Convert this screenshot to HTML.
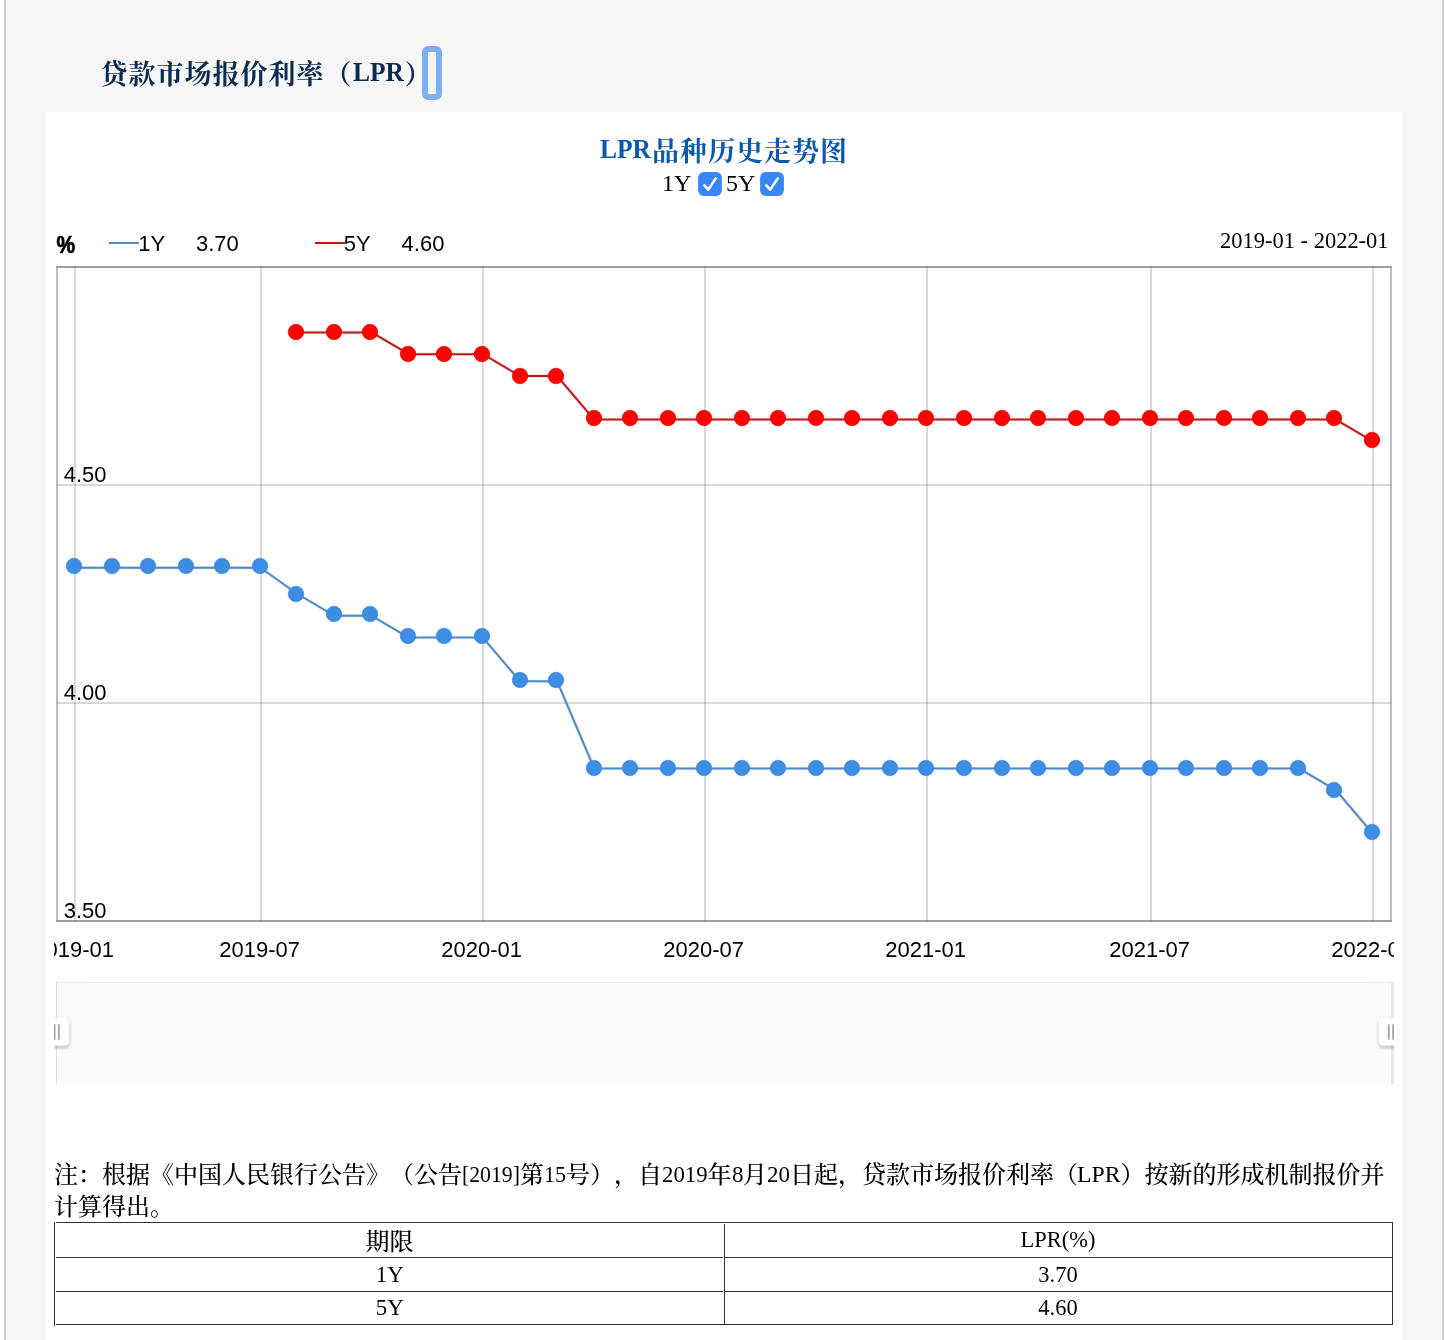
<!DOCTYPE html>
<html lang="zh-CN">
<head>
<meta charset="utf-8">
<title>贷款市场报价利率（LPR）</title>
<style>
html,body{margin:0;padding:0;background:#fff;}
body{width:1444px;height:1340px;overflow:hidden;position:relative;font-family:"Liberation Serif","Noto Serif CJK SC",serif;color:#000;}
.wrap{position:absolute;left:4px;top:0;width:1436px;height:1340px;border-left:2px solid #cdcdcd;border-right:2px solid #cdcdcd;background:#f6f6f6;}
.title{position:absolute;left:100.5px;top:55px;margin:0;font-size:27px;letter-spacing:1px;line-height:40px;font-weight:bold;color:#0a2a50;white-space:nowrap;}
.ring{position:absolute;left:422px;top:46px;width:8px;height:42px;border:6px solid #7eaef3;border-radius:6px;}
.panel{position:absolute;left:46px;top:112px;width:1356px;height:1228px;background:#fff;}
.ctitle{position:absolute;left:46px;top:132px;width:1356px;margin:0;text-align:center;font-size:27px;letter-spacing:1px;line-height:40px;font-weight:bold;color:#0d58ad;white-space:nowrap;}
.lat{display:inline-block;font-size:28px;letter-spacing:0;transform:scaleX(.91);transform-origin:0 50%;margin-right:-4px;position:relative;top:-2.8px;}
.checks{position:absolute;left:0;top:167px;width:1444px;height:32px;font-size:24px;line-height:32px;white-space:nowrap;}
.checks label{position:absolute;top:0;}
.checks input{position:absolute;top:5px;width:24px;height:24px;margin:0;padding:0;opacity:0;}
.checks .cb{position:absolute;top:5px;}
.chart{position:absolute;left:54px;top:212px;}
.note{position:absolute;left:54px;top:1159px;width:1340px;margin:0;font-size:24px;line-height:32px;text-spacing-trim:space-all;font-weight:500;white-space:nowrap;}
.note .l{display:inline-block;white-space:nowrap;transform-origin:0 50%;position:relative;top:-1.5px;}
.tbl{position:absolute;left:54px;top:1222px;width:1339px;height:103px;border-collapse:collapse;table-layout:fixed;font-size:24px;}
.tbl td{border:1px solid #2e2e2e;text-align:center;padding:0;line-height:30px;}
.gap{position:absolute;background:#fff;}
.tbl .c{position:relative;top:2px;font-weight:500;}
.tbl .t{display:inline-block;position:relative;top:-1px;transform:scaleX(.95);}
.tbl .t2{left:-0.8px;transform:scaleX(.935);}
</style>
</head>
<body>
<div class="wrap"></div>
<h1 class="title">贷款市场报价利率（<span class="lat">LPR</span>）</h1>
<div class="ring"></div>
<div class="panel"></div>
<h2 class="ctitle"><span class="lat">LPR</span>品种历史走势图</h2>
<div class="checks"><label for="c1y" style="left:662px">1Y</label><input id="c1y" type="checkbox" checked style="left:698px"><svg class="cb" style="left:698px" width="24" height="24" viewBox="0 0 24 24"><rect x="0.1" y="0.1" width="23.8" height="23.8" rx="5.6" fill="#3987f6"/><path d="M6.3 13.4 L10.1 17.7 L17.8 6.4" fill="none" stroke="#fff" stroke-width="2.5" stroke-linecap="round" stroke-linejoin="round"/></svg><label for="c5y" style="left:726px">5Y</label><input id="c5y" type="checkbox" checked style="left:760px"><svg class="cb" style="left:760px" width="24" height="24" viewBox="0 0 24 24"><rect x="0.1" y="0.1" width="23.8" height="23.8" rx="5.6" fill="#3987f6"/><path d="M6.3 13.4 L10.1 17.7 L17.8 6.4" fill="none" stroke="#fff" stroke-width="2.5" stroke-linecap="round" stroke-linejoin="round"/></svg></div>
<svg class="chart" width="1340" height="900" viewBox="54 212 1340 900">
<rect x="56" y="266" width="1336" height="2" fill="#9a9fad"/>
<rect x="56" y="920" width="1336" height="2" fill="#9a9fad"/>
<rect x="56" y="268" width="2" height="652" fill="#b8bec8"/>
<rect x="1390" y="268" width="2" height="652" fill="#b8bec8"/>
<g fill="#000" fill-opacity="0.15">
<rect x="74" y="267" width="2" height="654"/>
<rect x="260" y="267" width="2" height="654"/>
<rect x="482" y="267" width="2" height="654"/>
<rect x="704" y="267" width="2" height="654"/>
<rect x="926" y="267" width="2" height="654"/>
<rect x="1150" y="267" width="2" height="654"/>
<rect x="1372" y="267" width="2" height="654"/>
<rect x="57" y="484" width="1334" height="2"/>
<rect x="57" y="702" width="1334" height="2"/>
</g>
<path d="M297.5,332.4 L334.6,332.4 L371.7,332.4 L408.8,354.2 L445.9,354.2 L482.9,354.2 L520.0,376.0 L557.1,376.0 L594.2,419.6 L631.3,419.6 L668.4,419.6 L705.5,419.6 L742.5,419.6 L779.6,419.6 L816.7,419.6 L853.8,419.6 L890.9,419.6 L928.0,419.6 L965.1,419.6 L1002.1,419.6 L1039.2,419.6 L1076.3,419.6 L1113.4,419.6 L1150.5,419.6 L1187.6,419.6 L1224.7,419.6 L1261.7,419.6 L1298.8,419.6 L1335.9,419.6 L1373.0,441.4" fill="none" stroke="#ff3030" stroke-width="4" stroke-linejoin="round" stroke-opacity="0.12"/>
<path d="M297.5,332.4 L334.6,332.4 L371.7,332.4 L408.8,354.2 L445.9,354.2 L482.9,354.2 L520.0,376.0 L557.1,376.0 L594.2,419.6 L631.3,419.6 L668.4,419.6 L705.5,419.6 L742.5,419.6 L779.6,419.6 L816.7,419.6 L853.8,419.6 L890.9,419.6 L928.0,419.6 L965.1,419.6 L1002.1,419.6 L1039.2,419.6 L1076.3,419.6 L1113.4,419.6 L1150.5,419.6 L1187.6,419.6 L1224.7,419.6 L1261.7,419.6 L1298.8,419.6 L1335.9,419.6 L1373.0,441.4" fill="none" stroke="#b81e1e" stroke-width="2" stroke-linejoin="round"/>
<circle cx="296" cy="332" r="7.8" fill="#ff0000" stroke="#dc0000" stroke-width="0.6"/>
<circle cx="334" cy="332" r="7.8" fill="#ff0000" stroke="#dc0000" stroke-width="0.6"/>
<circle cx="370" cy="332" r="7.8" fill="#ff0000" stroke="#dc0000" stroke-width="0.6"/>
<circle cx="408" cy="354" r="7.8" fill="#ff0000" stroke="#dc0000" stroke-width="0.6"/>
<circle cx="444" cy="354" r="7.8" fill="#ff0000" stroke="#dc0000" stroke-width="0.6"/>
<circle cx="482" cy="354" r="7.8" fill="#ff0000" stroke="#dc0000" stroke-width="0.6"/>
<circle cx="520" cy="376" r="7.8" fill="#ff0000" stroke="#dc0000" stroke-width="0.6"/>
<circle cx="556" cy="376" r="7.8" fill="#ff0000" stroke="#dc0000" stroke-width="0.6"/>
<circle cx="594" cy="418" r="7.8" fill="#ff0000" stroke="#dc0000" stroke-width="0.6"/>
<circle cx="630" cy="418" r="7.8" fill="#ff0000" stroke="#dc0000" stroke-width="0.6"/>
<circle cx="668" cy="418" r="7.8" fill="#ff0000" stroke="#dc0000" stroke-width="0.6"/>
<circle cx="704" cy="418" r="7.8" fill="#ff0000" stroke="#dc0000" stroke-width="0.6"/>
<circle cx="742" cy="418" r="7.8" fill="#ff0000" stroke="#dc0000" stroke-width="0.6"/>
<circle cx="778" cy="418" r="7.8" fill="#ff0000" stroke="#dc0000" stroke-width="0.6"/>
<circle cx="816" cy="418" r="7.8" fill="#ff0000" stroke="#dc0000" stroke-width="0.6"/>
<circle cx="852" cy="418" r="7.8" fill="#ff0000" stroke="#dc0000" stroke-width="0.6"/>
<circle cx="890" cy="418" r="7.8" fill="#ff0000" stroke="#dc0000" stroke-width="0.6"/>
<circle cx="926" cy="418" r="7.8" fill="#ff0000" stroke="#dc0000" stroke-width="0.6"/>
<circle cx="964" cy="418" r="7.8" fill="#ff0000" stroke="#dc0000" stroke-width="0.6"/>
<circle cx="1002" cy="418" r="7.8" fill="#ff0000" stroke="#dc0000" stroke-width="0.6"/>
<circle cx="1038" cy="418" r="7.8" fill="#ff0000" stroke="#dc0000" stroke-width="0.6"/>
<circle cx="1076" cy="418" r="7.8" fill="#ff0000" stroke="#dc0000" stroke-width="0.6"/>
<circle cx="1112" cy="418" r="7.8" fill="#ff0000" stroke="#dc0000" stroke-width="0.6"/>
<circle cx="1150" cy="418" r="7.8" fill="#ff0000" stroke="#dc0000" stroke-width="0.6"/>
<circle cx="1186" cy="418" r="7.8" fill="#ff0000" stroke="#dc0000" stroke-width="0.6"/>
<circle cx="1224" cy="418" r="7.8" fill="#ff0000" stroke="#dc0000" stroke-width="0.6"/>
<circle cx="1260" cy="418" r="7.8" fill="#ff0000" stroke="#dc0000" stroke-width="0.6"/>
<circle cx="1298" cy="418" r="7.8" fill="#ff0000" stroke="#dc0000" stroke-width="0.6"/>
<circle cx="1334" cy="418" r="7.8" fill="#ff0000" stroke="#dc0000" stroke-width="0.6"/>
<circle cx="1372" cy="440" r="7.8" fill="#ff0000" stroke="#dc0000" stroke-width="0.6"/>
<path d="M75.0,567.8 L112.1,567.8 L149.2,567.8 L186.3,567.8 L223.3,567.8 L260.4,567.8 L297.5,594.0 L334.6,615.8 L371.7,615.8 L408.8,637.6 L445.9,637.6 L482.9,637.6 L520.0,681.2 L557.1,681.2 L594.2,768.4 L631.3,768.4 L668.4,768.4 L705.5,768.4 L742.5,768.4 L779.6,768.4 L816.7,768.4 L853.8,768.4 L890.9,768.4 L928.0,768.4 L965.1,768.4 L1002.1,768.4 L1039.2,768.4 L1076.3,768.4 L1113.4,768.4 L1150.5,768.4 L1187.6,768.4 L1224.7,768.4 L1261.7,768.4 L1298.8,768.4 L1335.9,790.2 L1373.0,833.8" fill="none" stroke="#3399ff" stroke-width="4" stroke-linejoin="round" stroke-opacity="0.12"/>
<path d="M75.0,567.8 L112.1,567.8 L149.2,567.8 L186.3,567.8 L223.3,567.8 L260.4,567.8 L297.5,594.0 L334.6,615.8 L371.7,615.8 L408.8,637.6 L445.9,637.6 L482.9,637.6 L520.0,681.2 L557.1,681.2 L594.2,768.4 L631.3,768.4 L668.4,768.4 L705.5,768.4 L742.5,768.4 L779.6,768.4 L816.7,768.4 L853.8,768.4 L890.9,768.4 L928.0,768.4 L965.1,768.4 L1002.1,768.4 L1039.2,768.4 L1076.3,768.4 L1113.4,768.4 L1150.5,768.4 L1187.6,768.4 L1224.7,768.4 L1261.7,768.4 L1298.8,768.4 L1335.9,790.2 L1373.0,833.8" fill="none" stroke="#5588bd" stroke-width="2" stroke-linejoin="round"/>
<circle cx="74" cy="566" r="7.8" fill="#3d8de5" stroke="#3c84d6" stroke-width="0.6"/>
<circle cx="112" cy="566" r="7.8" fill="#3d8de5" stroke="#3c84d6" stroke-width="0.6"/>
<circle cx="148" cy="566" r="7.8" fill="#3d8de5" stroke="#3c84d6" stroke-width="0.6"/>
<circle cx="186" cy="566" r="7.8" fill="#3d8de5" stroke="#3c84d6" stroke-width="0.6"/>
<circle cx="222" cy="566" r="7.8" fill="#3d8de5" stroke="#3c84d6" stroke-width="0.6"/>
<circle cx="260" cy="566" r="7.8" fill="#3d8de5" stroke="#3c84d6" stroke-width="0.6"/>
<circle cx="296" cy="594" r="7.8" fill="#3d8de5" stroke="#3c84d6" stroke-width="0.6"/>
<circle cx="334" cy="614" r="7.8" fill="#3d8de5" stroke="#3c84d6" stroke-width="0.6"/>
<circle cx="370" cy="614" r="7.8" fill="#3d8de5" stroke="#3c84d6" stroke-width="0.6"/>
<circle cx="408" cy="636" r="7.8" fill="#3d8de5" stroke="#3c84d6" stroke-width="0.6"/>
<circle cx="444" cy="636" r="7.8" fill="#3d8de5" stroke="#3c84d6" stroke-width="0.6"/>
<circle cx="482" cy="636" r="7.8" fill="#3d8de5" stroke="#3c84d6" stroke-width="0.6"/>
<circle cx="520" cy="680" r="7.8" fill="#3d8de5" stroke="#3c84d6" stroke-width="0.6"/>
<circle cx="556" cy="680" r="7.8" fill="#3d8de5" stroke="#3c84d6" stroke-width="0.6"/>
<circle cx="594" cy="768" r="7.8" fill="#3d8de5" stroke="#3c84d6" stroke-width="0.6"/>
<circle cx="630" cy="768" r="7.8" fill="#3d8de5" stroke="#3c84d6" stroke-width="0.6"/>
<circle cx="668" cy="768" r="7.8" fill="#3d8de5" stroke="#3c84d6" stroke-width="0.6"/>
<circle cx="704" cy="768" r="7.8" fill="#3d8de5" stroke="#3c84d6" stroke-width="0.6"/>
<circle cx="742" cy="768" r="7.8" fill="#3d8de5" stroke="#3c84d6" stroke-width="0.6"/>
<circle cx="778" cy="768" r="7.8" fill="#3d8de5" stroke="#3c84d6" stroke-width="0.6"/>
<circle cx="816" cy="768" r="7.8" fill="#3d8de5" stroke="#3c84d6" stroke-width="0.6"/>
<circle cx="852" cy="768" r="7.8" fill="#3d8de5" stroke="#3c84d6" stroke-width="0.6"/>
<circle cx="890" cy="768" r="7.8" fill="#3d8de5" stroke="#3c84d6" stroke-width="0.6"/>
<circle cx="926" cy="768" r="7.8" fill="#3d8de5" stroke="#3c84d6" stroke-width="0.6"/>
<circle cx="964" cy="768" r="7.8" fill="#3d8de5" stroke="#3c84d6" stroke-width="0.6"/>
<circle cx="1002" cy="768" r="7.8" fill="#3d8de5" stroke="#3c84d6" stroke-width="0.6"/>
<circle cx="1038" cy="768" r="7.8" fill="#3d8de5" stroke="#3c84d6" stroke-width="0.6"/>
<circle cx="1076" cy="768" r="7.8" fill="#3d8de5" stroke="#3c84d6" stroke-width="0.6"/>
<circle cx="1112" cy="768" r="7.8" fill="#3d8de5" stroke="#3c84d6" stroke-width="0.6"/>
<circle cx="1150" cy="768" r="7.8" fill="#3d8de5" stroke="#3c84d6" stroke-width="0.6"/>
<circle cx="1186" cy="768" r="7.8" fill="#3d8de5" stroke="#3c84d6" stroke-width="0.6"/>
<circle cx="1224" cy="768" r="7.8" fill="#3d8de5" stroke="#3c84d6" stroke-width="0.6"/>
<circle cx="1260" cy="768" r="7.8" fill="#3d8de5" stroke="#3c84d6" stroke-width="0.6"/>
<circle cx="1298" cy="768" r="7.8" fill="#3d8de5" stroke="#3c84d6" stroke-width="0.6"/>
<circle cx="1334" cy="790" r="7.8" fill="#3d8de5" stroke="#3c84d6" stroke-width="0.6"/>
<circle cx="1372" cy="832" r="7.8" fill="#3d8de5" stroke="#3c84d6" stroke-width="0.6"/>
<g font-family="'Liberation Sans', sans-serif" font-size="22" fill="#000">
<text transform="translate(63.7,482) scale(1,1.045)">4.50</text>
<text transform="translate(63.7,700) scale(1,1.045)">4.00</text>
<text transform="translate(63.7,918) scale(1,1.045)">3.50</text>
<text transform="translate(73.6,957.2) scale(1,1.045)" text-anchor="middle">2019-01</text>
<text transform="translate(259.6,957.2) scale(1,1.045)" text-anchor="middle">2019-07</text>
<text transform="translate(481.6,957.2) scale(1,1.045)" text-anchor="middle">2020-01</text>
<text transform="translate(703.6,957.2) scale(1,1.045)" text-anchor="middle">2020-07</text>
<text transform="translate(925.6,957.2) scale(1,1.045)" text-anchor="middle">2021-01</text>
<text transform="translate(1149.6,957.2) scale(1,1.045)" text-anchor="middle">2021-07</text>
<text transform="translate(1371.6,957.2) scale(1,1.045)" text-anchor="middle">2022-01</text>
<text transform="translate(56.4,253) scale(0.95,1.05)" font-weight="bold" stroke="#000" stroke-width="0.65" stroke-linejoin="round">%</text>
<rect x="109" y="242" width="30" height="2" fill="#4e8ace"/>
<text x="138.2" y="251.3">1Y</text>
<text x="196" y="251.3">3.70</text>
<rect x="315" y="242" width="30" height="2" fill="#d01212"/>
<text x="343.8" y="251.3">5Y</text>
<text x="401.6" y="251.3">4.60</text>
</g>
<text transform="translate(1388.6,248.3) scale(0.937,1)" text-anchor="end" font-family="'Liberation Serif', serif" font-size="24" fill="#000">2019-01 - 2022-01</text>
<rect x="56" y="982" width="1336" height="102" fill="#fcfcfc"/>
<rect x="56" y="982" width="26" height="102" fill="#fbfbfb"/>
<rect x="1367" y="982" width="25" height="102" fill="#fbfbfb"/>
<rect x="56" y="982" width="1338" height="1" fill="#e8e8e8"/>
<rect x="56" y="982" width="1" height="102" fill="#e0e0e0"/>
<rect x="1391" y="982" width="3" height="102" fill="#e9e9e9"/>
<defs><filter id="sh0" filterUnits="userSpaceOnUse" x="41.8" y="1015" width="29.3" height="35"><feDropShadow dx="0.3" dy="2" stdDeviation="2" flood-color="#000" flood-opacity="0.28"/></filter></defs>
<rect x="44.8" y="1017.8" width="24" height="27.6" rx="4.2" fill="#fff" stroke="#ececec" stroke-width="0.5" filter="url(#sh0)"/>
<rect x="53.75" y="1024.3" width="1.7" height="15.4" fill="#a2a2a2"/>
<rect x="58.05" y="1024.3" width="1.7" height="15.4" fill="#a2a2a2"/>
<defs><filter id="sh1" filterUnits="userSpaceOnUse" x="1376.0" y="1015" width="29.3" height="35"><feDropShadow dx="0.3" dy="2" stdDeviation="2" flood-color="#000" flood-opacity="0.28"/></filter></defs>
<rect x="1379.0" y="1017.8" width="24" height="27.6" rx="4.2" fill="#fff" stroke="#ececec" stroke-width="0.5" filter="url(#sh1)"/>
<rect x="1387.95" y="1024.3" width="1.7" height="15.4" fill="#a2a2a2"/>
<rect x="1392.25" y="1024.3" width="1.7" height="15.4" fill="#a2a2a2"/>
</svg>
<p class="note">注：根据《中国人民银行公告》（公告<span class="l" style="width:58px;transform:scaleX(0.906)">[2019]</span>第<span class="l" style="width:22px;transform:scaleX(0.917)">15</span>号），自<span class="l" style="width:45.5px;transform:scaleX(0.948)">2019</span>年<span class="l" style="width:11.5px;transform:scaleX(0.958)">8</span>月<span class="l" style="width:23px;transform:scaleX(0.958)">20</span>日起，贷款市场报价利率（<span class="l" style="margin-left:-1px;width:43.5px;transform:scaleX(0.988)">LPR</span>）按新的形成机制报价并<br>计算得出。</p>
<table class="tbl">
<tr style="height:35px"><td style="width:669px"><span class="c">期限</span></td><td><span class="t t2">LPR(%)</span></td></tr>
<tr style="height:34px"><td><span class="t">1Y</span></td><td><span class="t t2">3.70</span></td></tr>
<tr style="height:33px"><td><span class="t">5Y</span></td><td><span class="t t2">4.60</span></td></tr>
</table>
<div class="gap" style="left:55px;top:1222px;width:1px;height:104px"></div>
<div class="gap" style="left:723px;top:1257px;width:1px;height:1px"></div>
<div class="gap" style="left:723px;top:1291px;width:1px;height:1px"></div>
<div class="gap" style="left:724px;top:1223px;width:1px;height:1px"></div>
<div class="gap" style="left:54px;top:1325px;width:1px;height:1px;background:#2e2e2e"></div>
</body>
</html>
